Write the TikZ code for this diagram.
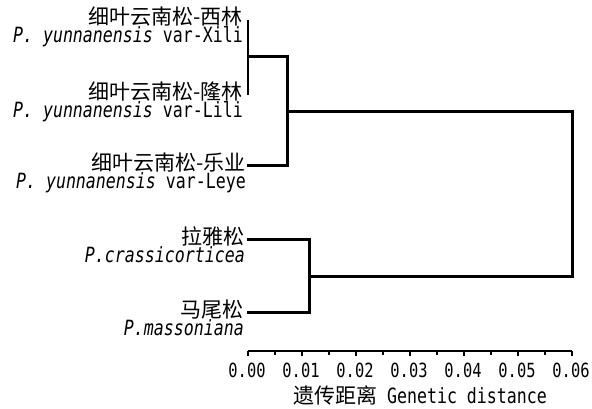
\documentclass[tikz,border=0pt]{standalone}
\usepackage{fontspec}
\setmainfont{DejaVu Sans Mono}[FakeStretch=0.79]
\newfontfamily\cjk{Noto Sans CJK SC}
\begin{document}
\begin{tikzpicture}[x=1pt,y=1pt,
  branch/.style={line width=3pt,line cap=rect},
  thinbranch/.style={line width=2pt},
  axisline/.style={line width=1.8pt},
  leaflabel/.style={anchor=base east,inner sep=0pt,align=right,
    font=\fontsize{21}{16}\selectfont},
  ticklabel/.style={anchor=center,inner sep=0pt,font=\fontsize{19.5}{19.5}\selectfont},
  titlelabel/.style={anchor=center,inner sep=0pt,font=\fontsize{21}{21}\selectfont}]
\useasboundingbox (0,0) rectangle (592,409);
% leaves
\coordinate (xili) at (248,389);
\coordinate (lili) at (248,314);
\coordinate (leye) at (248,243);
\coordinate (cras) at (248,169);
\coordinate (mass) at (248,96);
% internal nodes
\coordinate (j1) at (248,352);
\coordinate (j1r) at (287,352);
\coordinate (j2a) at (287,243);
\coordinate (j2) at (287,297);
\coordinate (j3a) at (309,169);
\coordinate (j3b) at (309,96);
\coordinate (j3) at (309,132);
\coordinate (r1) at (572,297);
\coordinate (r2) at (572,132);
% labels (base = baseline of the last line)
\node[leaflabel] (lxili) at (243,366) {{\cjk 细叶云南松-西林}\\{\itshape P. yunnanensis} var-Xili};
\node[leaflabel] (llili) at (243,291) {{\cjk 细叶云南松-隆林}\\{\itshape P. yunnanensis} var-Lili};
\node[leaflabel] (lleye) at (246,220) {{\cjk 细叶云南松-乐业}\\{\itshape P. yunnanensis} var-Leye};
\node[leaflabel] (lcras) at (245,146) {{\cjk 拉雅松}\\{\itshape P.crassicorticea}};
\node[leaflabel] (lmass) at (244,73) {{\cjk 马尾松}\\{\itshape P.massoniana}};
% tree
\draw[thinbranch] (xili) -- (lili);
\draw[branch] (j1) -- (j1r);
\draw[branch] (leye) -- (j2a);
\draw[branch] (j1r) -- (j2a);
\draw[branch] (j2) -- (r1);
\draw[branch] (cras) -- (j3a);
\draw[branch] (mass) -- (j3b);
\draw[branch] (j3a) -- (j3b);
\draw[branch] (j3) -- (r2);
\draw[branch] (r1) -- (r2);
% axis
\coordinate (a0) at (248,58);
\coordinate (a6) at (572,58);
\draw[axisline] (a0) -- (a6);
\foreach \i in {0,...,6} {
  \coordinate (t\i) at (248+54*\i,58);
  \draw[axisline] (t\i) -- ++(0,-5.5);
  \node[ticklabel] (tl\i) at (247+54*\i,39) {0.0\i};
}
\foreach \i in {0,...,5} {
  \coordinate (m\i) at (275+54*\i,58);
  \draw[line width=1.4pt] (m\i) -- ++(0,-4);
}
\node[titlelabel] (title) at (420,14) {{\cjk 遗传距离} Genetic distance};
\end{tikzpicture}
\end{document}
